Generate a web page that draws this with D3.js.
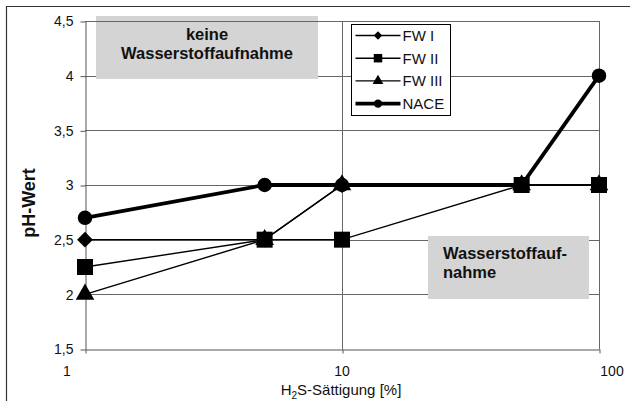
<!DOCTYPE html>
<html>
<head>
<meta charset="utf-8">
<script src="https://cdn.jsdelivr.net/npm/d3@7"></script>
<style>
  body { margin: 0; background: #fff; }
  svg { font-family: "Liberation Sans", Arial, sans-serif; }
</style>
</head>
<body>
<svg id="chart" width="630" height="401"></svg>
<script>
// H2S saturation [%] and pH values per series
const xValues = [1, 5, 10, 50, 100];
const seriesNames = ['FW I', 'FW II', 'FW III', 'NACE'];
const fw1 = [2.5, 2.5, 3, 3, 3];
const fw2 = [2.25, 2.5, 2.5, 3, 3];
const fw3 = [2, 2.5, 3, 3, 3];
const nace = [2.7, 3, 3, 3, 4];
const yTicks = [1.5, 2, 2.5, 3, 3.5, 4, 4.5];
const xTicks = [1, 10, 100];

const svg = d3.select('#chart');
const pLeft = 85, pRight = 599, pTop = 21, pBottom = 349;

const x = d3.scaleLog().domain([1, 100]).range([pLeft, pRight]);
const y = d3.scaleLinear().domain([1.5, 4.5]).range([pBottom, pTop]);
const fmt = d => String(d).replace('.', ',');

// outer frame (cut at right/bottom like the original)
svg.append('path')
  .attr('d', 'M6.5,401 V6.5 H630')
  .attr('fill', 'none').attr('stroke', '#333').attr('stroke-width', 1.2);

// horizontal grid
svg.append('g').selectAll('line').data(yTicks.slice(1)).enter().append('line')
  .attr('x1', pLeft).attr('x2', pRight)
  .attr('y1', d => Math.round(y(d)) + 0.5).attr('y2', d => Math.round(y(d)) + 0.5)
  .attr('stroke', '#666').attr('stroke-width', 1);

// vertical grid
svg.append('g').selectAll('line').data(xTicks.slice(1)).enter().append('line')
  .attr('x1', d => Math.round(x(d)) + 0.5).attr('x2', d => Math.round(x(d)) + 0.5)
  .attr('y1', pTop).attr('y2', pBottom)
  .attr('stroke', '#666').attr('stroke-width', 1);

// y axis
const axisL = d3.axisLeft(y).tickValues(yTicks).tickFormat(fmt).tickSize(5).tickSizeOuter(0);
const gy = svg.append('g').attr('transform', `translate(${pLeft + 0.5},0.5)`).call(axisL);
gy.select('.domain').attr('stroke', '#555');
gy.selectAll('.tick line').attr('stroke', '#555');
gy.selectAll('.tick text').attr('font-size', 14).attr('fill', '#111')
  .attr('font-family', '"Liberation Sans", Arial, sans-serif').attr('x', -12);

// x axis
const axisB = d3.axisBottom(x).tickValues(xTicks).tickFormat('').tickSize(4).tickSizeOuter(0);
const gx = svg.append('g').attr('transform', `translate(0.5,${pBottom + 0.5})`).call(axisB);
gx.select('.domain').attr('stroke', '#555');
gx.selectAll('.tick line').attr('stroke', '#555');

// x tick labels (offset as in the original)
const xLabelOffset = { 1: -18, 10: 0, 100: 13 };
svg.append('g').selectAll('text').data(xTicks).enter().append('text')
  .attr('x', d => x(d) + xLabelOffset[d])
  .attr('y', 376)
  .attr('text-anchor', 'middle')
  .attr('font-size', 14).attr('fill', '#111')
  .text(d => d);

// axis titles
const xt = svg.append('text').attr('x', 341).attr('y', 395)
  .attr('text-anchor', 'middle').attr('font-size', 15).attr('fill', '#111');
xt.append('tspan').text('H');
xt.append('tspan').attr('font-size', 10).attr('dy', 4).text('2');
xt.append('tspan').attr('dy', -4).text('S-Sättigung [%]');

svg.append('text')
  .attr('transform', 'translate(35,203) rotate(-90)')
  .attr('text-anchor', 'middle').attr('font-size', 18).attr('font-weight', 'bold')
  .attr('fill', '#111').text('pH-Wert');

// annotation boxes
svg.append('rect').attr('x', 96).attr('y', 16).attr('width', 222).attr('height', 63).attr('fill', '#d4d4d4');
svg.append('text').attr('x', 207).attr('y', 40).attr('text-anchor', 'middle')
  .attr('font-size', 16.5).attr('font-weight', 'bold').attr('fill', '#111').text('keine');
svg.append('text').attr('x', 207).attr('y', 59).attr('text-anchor', 'middle')
  .attr('font-size', 16.5).attr('font-weight', 'bold').attr('fill', '#111').text('Wasserstoffaufnahme');

svg.append('rect').attr('x', 428).attr('y', 236).attr('width', 161).attr('height', 63).attr('fill', '#d4d4d4');
svg.append('text').attr('x', 443).attr('y', 259)
  .attr('font-size', 16.5).attr('font-weight', 'bold').attr('fill', '#111').text('Wasserstoffauf-');
svg.append('text').attr('x', 443).attr('y', 278)
  .attr('font-size', 16.5).attr('font-weight', 'bold').attr('fill', '#111').text('nahme');

// plot top/right border
svg.append('path')
  .attr('d', `M${pLeft},${pTop + 0.5} H${pRight + 0.5} V${pBottom}`)
  .attr('fill', 'none').attr('stroke', '#666');

// series
const symbols = [d3.symbolDiamond2, d3.symbolSquare, d3.symbolTriangle, d3.symbolCircle];
const symSizes = [160, 256, 150, 165];
const legSizes = [45, 72, 50, 55];
const widths = [1.4, 1.4, 1.4, 3.8];
const allSeries = [fw1, fw2, fw3, nace];

const line = d3.line().x((d, i) => x(xValues[i])).y(d => y(d));

allSeries.forEach((vals, s) => {
  svg.append('path').datum(vals)
    .attr('d', line)
    .attr('fill', 'none').attr('stroke', '#000').attr('stroke-width', widths[s]);
});
allSeries.forEach((vals, s) => {
  svg.append('g').selectAll('path').data(vals).enter().append('path')
    .attr('transform', (d, i) => `translate(${x(xValues[i])},${y(d)})`)
    .attr('d', d3.symbol().type(symbols[s]).size(symSizes[s]))
    .attr('fill', '#000');
});

// legend
const leg = svg.append('g').attr('transform', 'translate(351.5,24.5)');
leg.append('rect').attr('width', 99).attr('height', 91).attr('fill', '#fff').attr('stroke', '#000');
seriesNames.forEach((name, s) => {
  const ly = 11 + s * 22.7;
  leg.append('line').attr('x1', 4).attr('x2', 49).attr('y1', ly).attr('y2', ly)
    .attr('stroke', '#000').attr('stroke-width', widths[s]);
  leg.append('path').attr('transform', `translate(26.5,${ly})`)
    .attr('d', d3.symbol().type(symbols[s]).size(legSizes[s])).attr('fill', '#000');
  leg.append('text').attr('x', 51).attr('y', ly + 5.5)
    .attr('font-size', 15).attr('fill', '#111').text(name);
});
</script>
</body>
</html>
